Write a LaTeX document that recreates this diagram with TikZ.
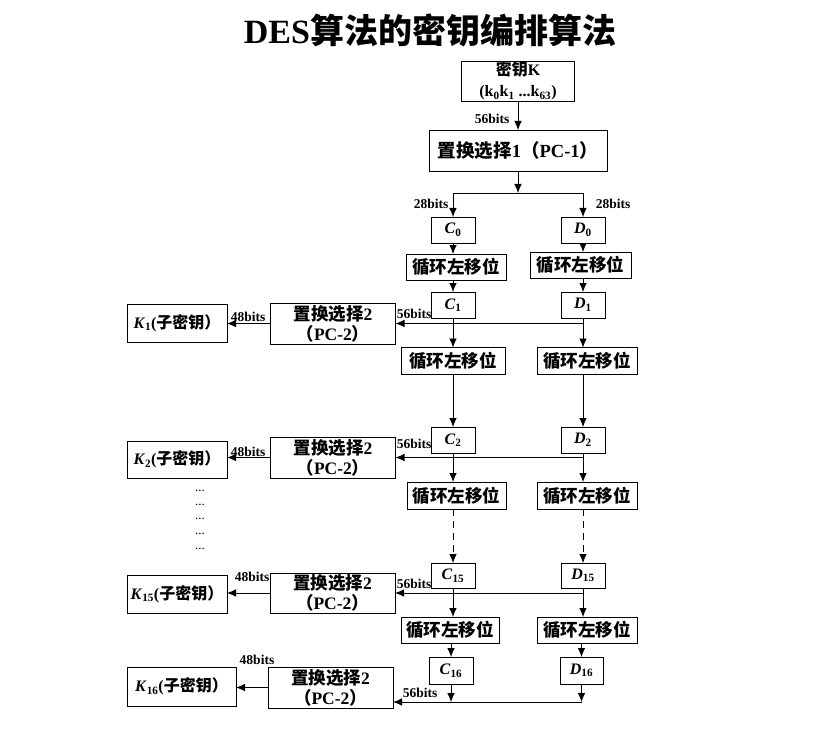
\documentclass[tikz,border=0pt]{standalone}
\usepackage{fontspec}
\setmainfont{Liberation Serif}
\newfontfamily\cjk{Noto Sans CJK SC}
\usetikzlibrary{arrows.meta}

\begin{document}
\begin{tikzpicture}[x=1pt,y=-1pt,line width=0.8pt,
  box/.style={draw,inner sep=0,outer sep=0,align=center,font=\fontsize{17.5}{20}\selectfont\bfseries},
  cbox/.style={box,minimum width=44,minimum height=26,font=\fontsize{16}{20}\selectfont\bfseries},
  shbox/.style={box,minimum width=100,minimum height=26},
  pcbox/.style={box,minimum width=125,minimum height=41},
  kbox/.style={box,minimum width=100,minimum height=38,font=\fontsize{16}{20}\selectfont\bfseries},
  bits/.style={inner sep=0,font=\fontsize{13.5}{13.5}\selectfont\bfseries},
  arr/.style={-{Latex[length=9,width=7.5]}}]
\newcommand{\zh}[1]{{\cjk #1}}
\newcommand{\shiftlabel}{\zh{循环左移位}}
\newcommand{\pctwo}{\zh{置换选择}2\\\zh{（}PC-2\zh{）}}
\newcommand{\mkvar}[2]{\textit{#1}\textsubscript{#2}}
\newcommand{\subkey}[1]{\mkvar{K}{#1}(\zh{子密钥）}}
\useasboundingbox (0,0) rectangle (826,735);
% title
\node (title) at (430,30) {\fontsize{34}{34}\selectfont\bfseries DES\zh{算法的密钥编排算法}};
% key and PC-1
\node[box,minimum width=113,minimum height=40,font=\fontsize{16}{21}\selectfont\bfseries] (key) at (518,81) {\zh{密钥}K\\(k\textsubscript{0}k\textsubscript{1} ...k\textsubscript{63})};
\node[box,minimum width=178,minimum height=41,font=\fontsize{18.5}{20}\selectfont\bfseries] (pc1) at (518,150.5) {\zh{置换选择}1\zh{（}PC-1\zh{）}};
\draw[arr] (key.south) -- (pc1.north);
\node[bits] (b56) at (492,119) {56bits};
\coordinate (split) at (518,193);
\coordinate (splitl) at (453,193);
\coordinate (splitr) at (583,193);
\draw[arr] (pc1.south) -- (split);
\draw (splitl) -- (splitr);
\node[bits] (b28l) at (431,204) {28bits};
\node[bits] (b28r) at (613,204) {28bits};
% C0 D0 and first shift
\node[cbox] (c0) at (453,230) {\mkvar{C}{0}};
\node[cbox] (d0) at (583,230) {\mkvar{D}{0}};
\draw[arr] (splitl) -- (c0.north);
\draw[arr] (splitr) -- (d0.north);
\node[shbox] (shl1) at (456,267) {\shiftlabel};
\node[shbox,minimum width=101] (shr1) at (580.5,265) {\shiftlabel};
\draw[arr] (c0.south) -- (c0.south |- shl1.north);
\draw[arr] (d0.south) -- (d0.south |- shr1.north);
% C1 D1 -> K1
\node[cbox] (c1) at (453,305) {\mkvar{C}{1}};
\node[cbox] (d1) at (583,305) {\mkvar{D}{1}};
\draw[arr] (c1.north |- shl1.south) -- (c1.north);
\draw[arr] (d1.north |- shr1.south) -- (d1.north);
\node[pcbox] (pca) at (333,323.5) {\pctwo};
\node[kbox] (k1) at (177,323) {\subkey{1}};
\draw[arr] (d1.south |- pca.east) -- (pca.east);
\draw[arr] (pca.west) -- (pca.west -| k1.east);
\node[bits] (b56a) at (414,314) {56bits};
\node[bits] (b48a) at (248,317) {48bits};
\node[shbox,minimum width=104,minimum height=27] (shl2) at (453,361) {\shiftlabel};
\node[shbox,minimum height=27] (shr2) at (587,361) {\shiftlabel};
\draw[arr] (c1.south) -- (c1.south |- shl2.north);
\draw[arr] (d1.south) -- (d1.south |- shr2.north);
% C2 D2 -> K2
\node[cbox] (c2) at (453,440) {\mkvar{C}{2}};
\node[cbox] (d2) at (583,440) {\mkvar{D}{2}};
\draw[arr] (c2.north |- shl2.south) -- (c2.north);
\draw[arr] (d2.north |- shr2.south) -- (d2.north);
\node[pcbox] (pcb) at (333,457.5) {\pctwo};
\node[kbox,minimum height=37] (k2) at (177,459.5) {\subkey{2}};
\draw[arr] (d2.south |- pcb.east) -- (pcb.east);
\draw[arr] (pcb.west) -- (pcb.west -| k2.east);
\node[bits] (b56b) at (414,444) {56bits};
\node[bits] (b48b) at (248,452) {48bits};
\node[shbox,minimum width=99,minimum height=27] (shl3) at (456.5,495.5) {\shiftlabel};
\node[shbox,minimum height=27] (shr3) at (587,495.5) {\shiftlabel};
\draw[arr] (c2.south) -- (c2.south |- shl3.north);
\draw[arr] (d2.south) -- (d2.south |- shr3.north);
\foreach \y [count=\i] in {491,505,519,534,549}
  \node[inner sep=0,font=\fontsize{13}{13}\selectfont] (dots\i) at (200,\y) {...};
% C15 D15 -> K15
\node[cbox,minimum height=25] (c15) at (453,575.5) {\mkvar{C}{15}};
\node[cbox,minimum height=25] (d15) at (583,575.5) {\mkvar{D}{15}};
\draw[arr,dash pattern=on 7pt off 5pt] (c15.north |- shl3.south) -- (c15.north);
\draw[arr,dash pattern=on 7pt off 5pt] (d15.north |- shr3.south) -- (d15.north);
\node[pcbox,minimum height=40] (pcc) at (332.5,593) {\pctwo};
\node[kbox] (k15) at (177,594) {\subkey{15}};
\draw[arr] (d15.south |- pcc.east) -- (pcc.east);
\draw[arr] (pcc.west) -- (pcc.west -| k15.east);
\node[bits] (b56c) at (414,584) {56bits};
\node[bits] (b48c) at (252,577) {48bits};
\node[shbox,minimum width=98] (shl4) at (450,630) {\shiftlabel};
\node[shbox] (shr4) at (587,630) {\shiftlabel};
\draw[arr] (c15.south) -- (c15.south |- shl4.north);
\draw[arr] (d15.south) -- (d15.south |- shr4.north);
% C16 D16 -> K16
\node[cbox,minimum height=27] (c16) at (451,670.5) {\mkvar{C}{16}};
\node[cbox,minimum height=27,minimum width=43] (d16) at (581.5,670.5) {\mkvar{D}{16}};
\draw[arr] (c16.north |- shl4.south) -- (c16.north);
\draw[arr] (d16.north |- shr4.south) -- (d16.north);
\coordinate (cj) at (451,702);
\coordinate (dj) at (581.5,702);
\node[pcbox] (pcd) at (330.5,687.5) {\pctwo};
\node[kbox,minimum width=109,minimum height=39] (k16) at (181.5,686.5) {\subkey{16}};
\draw[arr] (c16.south) -- (cj);
\draw[arr] (d16.south) -- (dj);
\draw[arr] (dj) -- (dj -| pcd.east);
\draw[arr] (pcd.west) -- (pcd.west -| k16.east);
\node[bits] (b56d) at (420,693) {56bits};
\node[bits] (b48d) at (257,660) {48bits};
\end{tikzpicture}
\end{document}
